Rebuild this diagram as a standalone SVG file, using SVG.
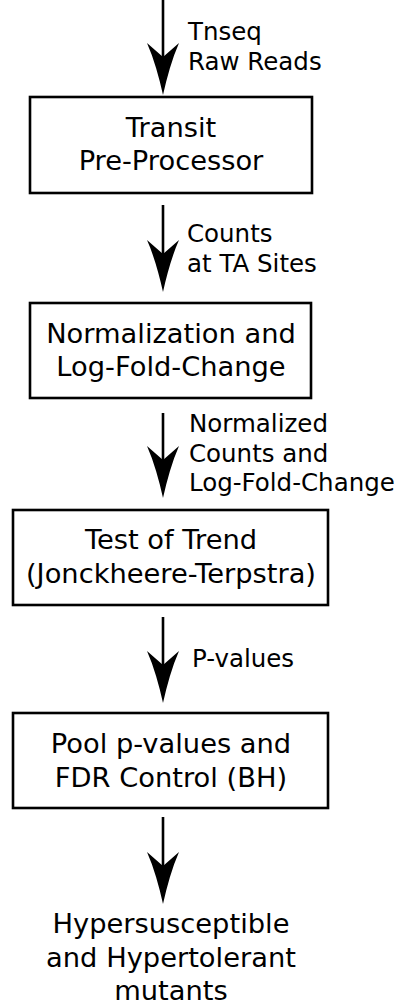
<svg xmlns="http://www.w3.org/2000/svg" width="401" height="1006" viewBox="0 0 401 1006">
<style>
.box{fill:#fff;stroke:#000;stroke-width:2.6}
.bt{font-family:"DejaVu Sans",sans-serif;font-size:27.3px;fill:#000;text-anchor:middle}
.lt{font-family:"DejaVu Sans",sans-serif;font-size:24.5px;fill:#000}
.ln{stroke:#000;stroke-width:2.6;fill:none}
</style>
<defs>
<path id="ah" d="M0,0 C-4,-18 -9,-36 -16,-52 L0,-38 L16,-52 C9,-36 4,-18 0,0 Z" fill="#000"/>
</defs>
<rect width="401" height="1006" fill="#fff"/>
<g id="connectors">
<line class="ln" x1="163" y1="0" x2="163" y2="70"/>
<use href="#ah" x="163" y="95"/>
<line class="ln" x1="163" y1="205" x2="163" y2="268"/>
<use href="#ah" x="163" y="292"/>
<line class="ln" x1="163" y1="413" x2="163" y2="474"/>
<use href="#ah" x="163" y="498"/>
<line class="ln" x1="163" y1="617" x2="163" y2="679"/>
<use href="#ah" x="163" y="703"/>
<line class="ln" x1="163" y1="817" x2="163" y2="880"/>
<use href="#ah" x="163" y="904"/>
</g>
<g id="labels">
<text class="lt" x="188" y="40">Tnseq</text>
<text class="lt" x="188" y="70">Raw Reads</text>
<text class="lt" x="187" y="242">Counts</text>
<text class="lt" x="187" y="272">at TA Sites</text>
<text class="lt" x="189" y="432">Normalized</text>
<text class="lt" x="189" y="462">Counts and</text>
<text class="lt" x="189" y="491">Log-Fold-Change</text>
<text class="lt" x="192" y="667">P-values</text>
</g>
<g id="n1">
<rect class="box" x="30" y="97" width="282" height="96"/>
<text class="bt" x="171" y="137">Transit</text>
<text class="bt" x="171" y="170">Pre-Processor</text>
</g>
<g id="n2">
<rect class="box" x="30" y="303" width="281" height="95"/>
<text class="bt" x="171" y="343">Normalization and</text>
<text class="bt" x="171" y="376">Log-Fold-Change</text>
</g>
<g id="n3">
<rect class="box" x="13" y="510" width="315" height="95"/>
<text class="bt" x="171" y="549">Test of Trend</text>
<text class="bt" x="171" y="583">(Jonckheere-Terpstra)</text>
</g>
<g id="n4">
<rect class="box" x="13" y="713" width="315" height="95"/>
<text class="bt" x="171" y="753">Pool p-values and</text>
<text class="bt" x="171" y="787">FDR Control (BH)</text>
</g>
<g id="n5">
<text class="bt" x="171" y="933">Hypersusceptible</text>
<text class="bt" x="171" y="967">and Hypertolerant</text>
<text class="bt" x="171" y="1000">mutants</text>
</g>
</svg>
